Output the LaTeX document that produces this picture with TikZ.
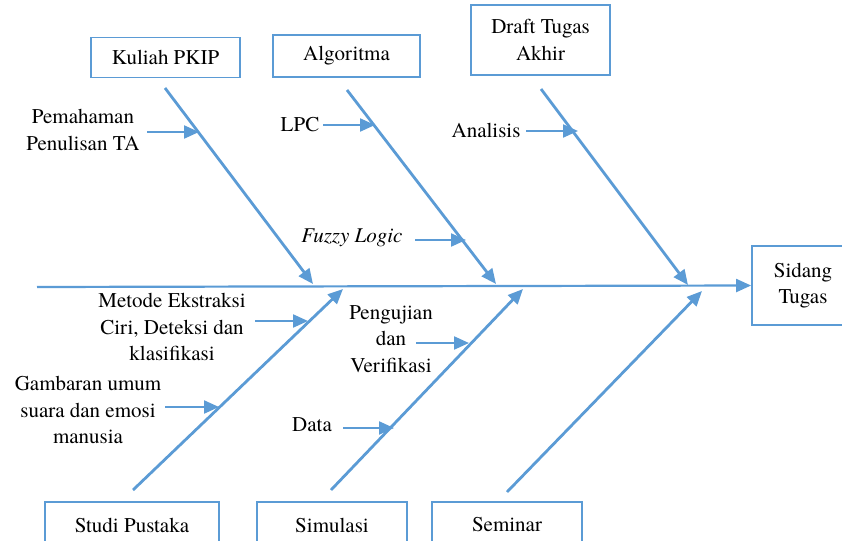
\documentclass[tikz,border=0pt]{standalone}
\usepackage{fontspec}
\setmainfont{texgyretermes}[Extension=.otf, UprightFont=*-regular, ItalicFont=*-italic, BoldFont=*-bold]
\usetikzlibrary{arrows.meta}
\definecolor{fb}{HTML}{5B9BD5}
\tikzset{
  lbl/.style={font=\rmfamily\fontsize{21}{26.5}\selectfont, align=center, inner sep=0pt, text=black},
  cbox/.style={draw=fb, line width=1.8pt, lbl, inner sep=0pt},
  bone/.style={draw=fb, line width=2.8pt, -{Triangle[length=15pt,width=13pt]}},
  spine/.style={draw=fb, line width=2.2pt, -{Triangle[length=15pt,width=13pt]}},
  sub/.style={draw=fb, line width=2.2pt, -{Triangle[length=15pt,width=13pt]}}
}
\begin{document}
\begin{tikzpicture}[x=1pt,y=-1pt]
\useasboundingbox (0,0) rectangle (842,540);
\clip (0,0) rectangle (842,540);
% boxes
\node[cbox, minimum width=149pt, minimum height=40pt] (kul) at (165.5,57.5) {Kuliah PKIP};
\node[cbox, minimum width=147pt, minimum height=42pt] (alg) at (346.5,56) {Algoritma};
\node[cbox, minimum width=139pt, minimum height=70pt] (dra) at (540.5,40) {Draft Tugas\\Akhir};
\node[cbox, minimum width=102pt, minimum height=79pt] (sid) at (803,285.5) {Sidang\\Tugas};
\node[cbox, minimum width=174pt, minimum height=46pt] (stu) at (132,525) {Studi Pustaka};
\node[cbox, minimum width=150pt, minimum height=46pt] (sim) at (332,525) {Simulasi};
\node[cbox, minimum width=150pt, minimum height=46pt] (sem) at (507,525) {Seminar};
% spine
\coordinate (s0) at (37,287);
\draw[spine] (s0) -- (sid.west);
% top bones
\coordinate (k0) at (165,88);  \coordinate (k1) at (313,284);
\coordinate (a0) at (347,90);  \coordinate (a1) at (496,284);
\coordinate (d0) at (541,89);  \coordinate (d1) at (688,285);
\draw[bone] (k0) -- (k1);
\draw[bone] (a0) -- (a1);
\draw[bone] (d0) -- (d1);
% bottom bones
\coordinate (p0) at (133,490); \coordinate (p1) at (343,289);
\coordinate (m0) at (331,490); \coordinate (m1) at (523,289);
\coordinate (e0) at (507,492); \coordinate (e1) at (702,291);
\draw[bone] (p0) -- (p1);
\draw[bone] (m0) -- (m1);
\draw[bone] (e0) -- (e1);
% sub causes top
\node[lbl] (pem) at (83,130) {Pemahaman\\Penulisan TA};
\coordinate (pemA) at (147,132); \coordinate (pemB) at (199,132);
\draw[sub] (pemA) -- (pemB);
\node[lbl] (lpc) at (300,125) {LPC};
\coordinate (lpcA) at (323,125); \coordinate (lpcB) at (375,125);
\draw[sub] (lpcA) -- (lpcB);
\node[lbl, font=\rmfamily\fontsize{21}{26.5}\selectfont\itshape] (fuz) at (352,238) {Fuzzy Logic};
\coordinate (fuzA) at (415,240); \coordinate (fuzB) at (466,240);
\draw[sub] (fuzA) -- (fuzB);
\node[lbl] (ana) at (486,130) {Analisis};
\coordinate (anaA) at (526,131); \coordinate (anaB) at (578,131);
\draw[sub] (anaA) -- (anaB);
% sub causes bottom
\node[lbl] (met) at (172,327) {Metode Ekstraksi\\Ciri, Deteksi dan\\klasifikasi};
\coordinate (metA) at (255,321); \coordinate (metB) at (308,321);
\draw[sub] (metA) -- (metB);
\node[lbl] (gam) at (88,410) {Gambaran umum\\suara dan emosi\\manusia};
\coordinate (gamA) at (165,407); \coordinate (gamB) at (219,407);
\draw[sub] (gamA) -- (gamB);
\node[lbl] (pen) at (391,339) {Pengujian\\dan\\Verifikasi};
\coordinate (penA) at (416,343); \coordinate (penB) at (469,343);
\draw[sub] (penA) -- (penB);
\node[lbl] (dat) at (312,425) {Data};
\coordinate (datA) at (343,428); \coordinate (datB) at (394,428);
\draw[sub] (datA) -- (datB);
\end{tikzpicture}
\end{document}
